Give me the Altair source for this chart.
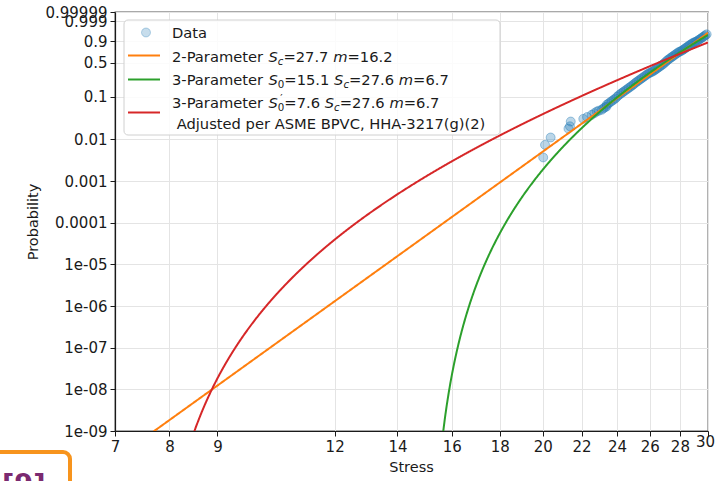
import numpy as np
import pandas as pd
import altair as alt

# ---- observed specimens: failure stress and median-rank probability ----
stress = [20.02, 20.11, 20.39, 21.30, 21.38, 21.42, 22.09, 22.30, 22.55, 22.70,
          22.83, 22.95, 23.11, 23.20, 23.30, 23.39,
          23.4, 23.5, 23.6, 23.7, 23.8, 23.9, 24.0, 24.1, 24.2, 24.3,
          24.4, 24.5, 24.6, 24.7, 24.8, 24.9, 25.0, 25.1, 25.2, 25.3,
          25.4, 25.5, 25.6, 25.7, 25.8, 25.9, 26.0, 26.1, 26.2, 26.3,
          26.4, 26.5, 26.6, 26.7, 26.8, 26.9, 27.0, 27.1, 27.2, 27.3,
          27.4, 27.5, 27.6, 27.7, 27.8, 27.9, 28.0, 28.1, 28.2, 28.3,
          28.4, 28.5, 28.6, 28.7, 28.8, 28.9, 29.0, 29.1, 29.2, 29.3,
          29.4, 29.5, 29.6, 29.7, 29.8, 29.9]
prob = [0.0037, 0.0074, 0.0111, 0.0180, 0.0205, 0.0266, 0.0308, 0.0340, 0.0383, 0.0420,
        0.0458, 0.0480, 0.0502, 0.0540, 0.0575, 0.0600,
        0.0661, 0.0707, 0.0756, 0.0807, 0.0861, 0.0919, 0.1005, 0.1096, 0.1168, 0.1242,
        0.1323, 0.1405, 0.1493, 0.1587, 0.1683, 0.1789, 0.1905, 0.2044, 0.2163, 0.2289,
        0.2417, 0.2557, 0.2699, 0.2848, 0.3004, 0.3160, 0.3275, 0.3385, 0.3505, 0.3651,
        0.3831, 0.4013, 0.4205, 0.4402, 0.4599, 0.4801, 0.5076, 0.5358, 0.5608, 0.5827,
        0.6038, 0.6259, 0.6475, 0.6688, 0.6899, 0.7112, 0.7247, 0.7382, 0.7544, 0.7743,
        0.7930, 0.8114, 0.8285, 0.8454, 0.8614, 0.8734, 0.8828, 0.8917, 0.8999, 0.9122,
        0.9215, 0.9323, 0.9415, 0.9502, 0.9576, 0.9648]

# ---- fitted Weibull models (threshold S0, characteristic Sc, modulus m) ----
fit_names = ["2-Parameter", "3-Parameter", "3-Parameter adjusted"]
fit_s0 = [0.0, 15.1, 7.6]
fit_sc = [27.7, 27.6, 27.6]
fit_m = [16.2, 6.7, 6.7]
fit_colors = ["#ff7f0e", "#2ca02c", "#d62728"]

# ---- axis ticks ----
x_ticks = [7, 8, 9, 12, 14, 16, 18, 20, 22, 24, 26, 28, 30]
p_ticks = [1e-9, 1e-8, 1e-7, 1e-6, 1e-5, 1e-4, 1e-3, 0.01, 0.1, 0.5, 0.9, 0.999, 0.99999]
p_labels = ["1e-09", "1e-08", "1e-07", "1e-06", "1e-05", "0.0001", "0.001",
            "0.01", "0.1", "0.5", "0.9", "0.999", "0.99999"]

FONT = "DejaVu Sans"
INK = "#1a1a1a"
BLUE = "#1f77b4"


def weibull_z(p):
    """Weibull probability-paper ordinate ln(-ln(1-p))."""
    return np.log(-np.log1p(-np.asarray(p, dtype=float)))


z_ticks = [float(v) for v in weibull_z(p_ticks)]
z_min, z_max = z_ticks[0], z_ticks[-1]

pts = pd.DataFrame({"stress": stress, "prob": prob})
pts["z"] = weibull_z(pts["prob"])

# model curves evaluated from the fitted parameters
s_grid = np.geomspace(7.0, 30.0, 1600)
frames = []
for name, s0, sc, m in zip(fit_names, fit_s0, fit_sc, fit_m):
    ratio = (s_grid - s0) / (sc - s0)
    ok = ratio > 0
    frames.append(pd.DataFrame({"stress": s_grid[ok],
                                "z": m * np.log(ratio[ok]),
                                "fit": name}))
curves = pd.concat(frames, ignore_index=True)

label_expr = "''"
for zv, lab in zip(z_ticks[::-1], p_labels[::-1]):
    label_expr = f"abs(datum.value - ({zv:.6f})) < 0.002 ? '{lab}' : ({label_expr})"

x_scale = alt.Scale(type="log", domain=[7, 30], nice=False)
y_scale = alt.Scale(domain=[z_min, z_max], nice=False, zero=False)

common_axis = dict(labelFont=FONT, labelFontSize=15, labelColor=INK,
                   titleFont=FONT, titleFontSize=14.5, titleColor=INK,
                   titleFontWeight="normal", tickSize=5, tickColor=INK,
                   domainColor=INK, domainWidth=1.2, grid=True,
                   gridColor="#e4e4e4", gridWidth=1, labelOverlap=False,
                   labelFlush=False, labelBound=False)

x_axis = alt.Axis(values=x_ticks, format="d",
                  labelPadding={"condition": {"test": "datum.value >= 30", "value": -2},
                                "value": 3},
                  labelOffset={"condition": {"test": "datum.value >= 30", "value": -3},
                               "value": 0},
                  titleX=296, titleY=36, titleBaseline="middle", **common_axis)
y_axis = alt.Axis(values=z_ticks, labelExpr=label_expr, labelPadding=3,
                  titleX=-82, titleY=209.5, titleAngle=270, titleAlign="center",
                  titleBaseline="middle", **common_axis)

X = alt.X("stress:Q", scale=x_scale, axis=x_axis, title="Stress")
Y = alt.Y("z:Q", scale=y_scale, axis=y_axis, title="Probability")

points = alt.Chart(pts).mark_point(
    shape="circle", size=80, fill=BLUE, fillOpacity=0.3,
    stroke=BLUE, strokeOpacity=0.4, strokeWidth=1,
).encode(x=X, y=Y)

lines = alt.Chart(curves).mark_line(clip=True, strokeWidth=2).encode(
    x=X, y=Y,
    color=alt.Color("fit:N", scale=alt.Scale(domain=fit_names, range=fit_colors),
                    legend=None),
)

# ---------------- hand-drawn legend with mathtext-like labels ----------------
OX, OY = 115, 12          # plot origin inside the page
one = pd.DataFrame({"k": [0]})

ADV = {" ": 0.3179, "-": 0.3608, ".": 0.3179, ",": 0.3179, "=": 0.8379,
       "(": 0.3901, ")": 0.3901, "A": 0.6841, "B": 0.6860, "C": 0.6982,
       "D": 0.7700, "E": 0.6318, "H": 0.7520, "M": 0.8628, "P": 0.6030,
       "S": 0.6348, "V": 0.6841, "a": 0.6128, "c": 0.5498, "d": 0.6348,
       "e": 0.6152, "g": 0.6348, "j": 0.2778, "m": 0.9741, "p": 0.6348,
       "r": 0.4111, "s": 0.5210, "t": 0.3921, "u": 0.6338, "\u2032": 0.30}
for d in "0123456789":
    ADV[d] = 0.6362


def adv(s, size):
    return sum(ADV.get(c, 0.6) for c in s) * size


LFS = 14.7


def text_layer(txt, x, y, size, style="normal"):
    return alt.Chart(one).mark_text(
        text=txt, align="left", baseline="alphabetic", font=FONT,
        fontSize=size, fontStyle=style, color=INK,
    ).encode(x=alt.value(x - OX), y=alt.value(y - OY))


def label_row(segs, x0, base):
    layers = []
    x = x0
    small = LFS * 0.7
    for txt, kind in segs:
        if kind == "n":
            layers.append(text_layer(txt.strip(), x, base, LFS))
            x += adv(txt, LFS)
        elif kind == "i":
            layers.append(text_layer(txt, x, base, LFS, "italic"))
            x += adv(txt, LFS)
        elif kind == "subi":
            layers.append(text_layer(txt, x, base + 0.22 * LFS, small, "italic"))
            x += adv(txt, small)
        elif kind == "sub":
            layers.append(text_layer(txt, x, base + 0.22 * LFS, small))
            x += adv(txt, small)
        elif kind == "supsub":
            sup, sub = txt
            layers.append(text_layer(sup, x + 2.5, base - 0.42 * LFS, small))
            layers.append(text_layer(sub, x, base + 0.22 * LFS, small))
            x += max(adv(sup, small) + 2.5, adv(sub, small))
    return layers


LX = 172
legend_layers = [
    alt.Chart(one).mark_rect(fill="white", fillOpacity=0.85, stroke="#d0d0d0",
                             strokeWidth=1, cornerRadius=4).encode(
        x=alt.value(124 - OX), x2=alt.value(500 - OX),
        y=alt.value(20 - OY), y2=alt.value(135 - OY)),
    alt.Chart(one).mark_point(shape="circle", size=80, fill=BLUE, fillOpacity=0.25,
                              stroke=BLUE, strokeOpacity=0.3, strokeWidth=1).encode(
        x=alt.value(146 - OX), y=alt.value(32.5 - OY)),
]
for col, yy in zip(fit_colors, [55.5, 79.5, 112.5]):
    legend_layers.append(alt.Chart(one).mark_rule(color=col, strokeWidth=2).encode(
        x=alt.value(128 - OX), x2=alt.value(160 - OX), y=alt.value(yy - OY)))

legend_layers.append(text_layer("Data", LX, 37.5, LFS))
legend_layers += label_row([("2-Parameter ", "n"), ("S", "i"), ("c", "subi"),
                            ("=27.7 ", "n"), ("m", "i"), ("=16.2", "n")], LX, 62)
legend_layers += label_row([("3-Parameter ", "n"), ("S", "i"), ("0", "sub"),
                            ("=15.1 ", "n"), ("S", "i"), ("c", "subi"),
                            ("=27.6 ", "n"), ("m", "i"), ("=6.7", "n")], LX, 85)
legend_layers += label_row([("3-Parameter ", "n"), ("S", "i"), (("\u2032", "0"), "supsub"),
                            ("=7.6 ", "n"), ("S", "i"), ("c", "subi"),
                            ("=27.6 ", "n"), ("m", "i"), ("=6.7", "n")], LX, 108)
legend_layers.append(text_layer("Adjusted per ASME BPVC, HHA-3217(g)(2)",
                                LX + adv(" ", LFS), 129, LFS))

# callout tag in the lower-left corner
tag_layers = [
    alt.Chart(one).mark_rect(fill="transparent", stroke="#f7941d", strokeWidth=4,
                             cornerRadius=7).encode(
        x=alt.value(-12 - OX), x2=alt.value(70 - OX),
        y=alt.value(452 - OY), y2=alt.value(500 - OY)),
    alt.Chart(one).mark_text(text="[9]", align="left", baseline="alphabetic",
                             font=FONT, fontSize=27, fontWeight="bold",
                             color="#7b2a70").encode(
        x=alt.value(2 - OX), y=alt.value(493 - OY)),
]

chart = alt.layer(points, lines, *legend_layers, *tag_layers).properties(
    width=593, height=419,
    autosize=alt.AutoSizeParams(type="none"),
    padding={"left": OX, "top": OY, "right": 7, "bottom": 50},
    background="white",
).configure_view(stroke="#555555", strokeWidth=1.3)

chart.save("out.html", embed_options={"renderer": "svg", "actions": False})
